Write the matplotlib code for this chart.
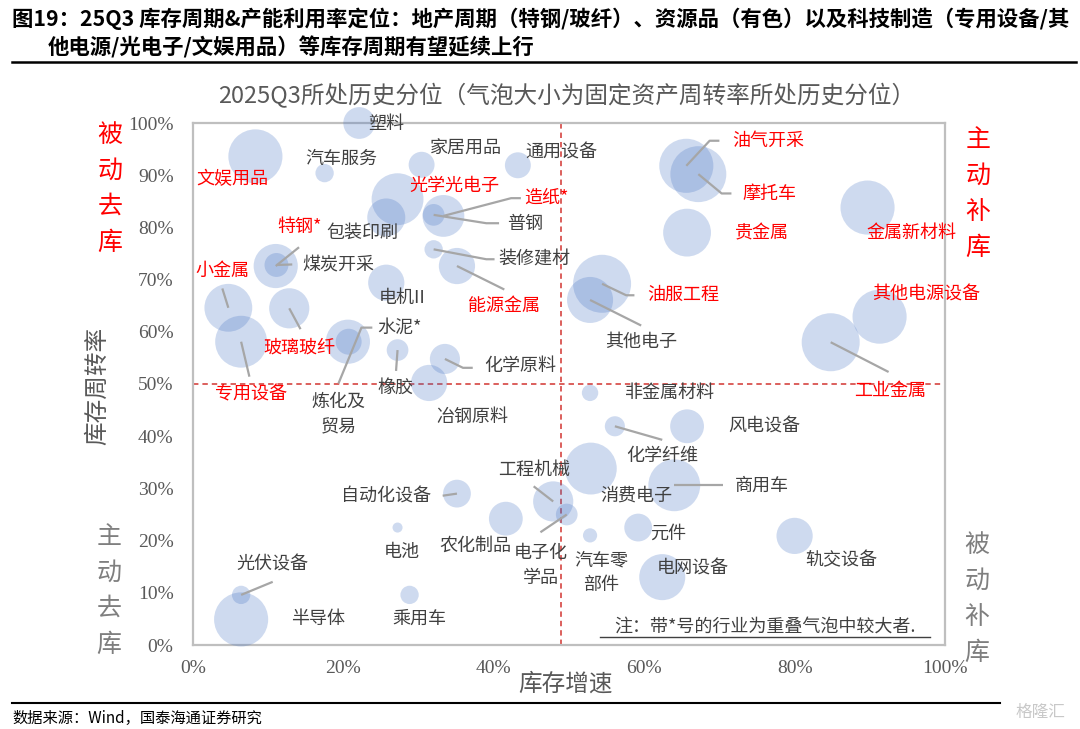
import matplotlib
matplotlib.use('Agg')
import matplotlib.pyplot as plt
from matplotlib.ticker import PercentFormatter
import numpy as np

plt.rcParams['font.family'] = ['Noto Sans CJK SC', 'DejaVu Sans']

# ---------------- data ----------------
industries = ['文娱用品', '塑料', '汽车服务', '家居用品', '通用设备', '光学光电子', '包装印刷',
              '造纸*', '普钢', '特钢*', '煤炭开采', '装修建材', '能源金属', '电机II', '小金属',
              '专用设备', '玻璃玻纤', '水泥*', '炼化及贸易', '橡胶', '化学原料', '冶钢原料',
              '油气开采', '摩托车', '贵金属', '金属新材料', '油服工程', '其他电子', '其他电源设备',
              '工业金属', '非金属材料', '化学纤维', '风电设备', '消费电子', '商用车', '元件',
              '汽车零部件', '电网设备', '轨交设备', '工程机械', '电子化学品', '自动化设备',
              '农化制品', '电池', '光伏设备', '半导体', '乘用车']
# inventory growth historical percentile (%)
inv_growth = [8.3, 22.1, 17.5, 30.4, 43.2, 27.2, 25.7,
              33.3, 32.0, 11.0, 11.1, 32.0, 35.1, 25.7, 4.7,
              6.4, 12.8, 20.6, 20.7, 27.2, 33.5, 31.4,
              65.6, 67.2, 65.7, 89.7, 54.4, 52.8, 91.3,
              84.8, 52.8, 56.1, 65.7, 52.9, 64.0, 59.2,
              52.8, 62.4, 80.0, 47.9, 49.7, 35.1,
              41.6, 27.2, 6.4, 6.4, 28.8]
# inventory turnover historical percentile (%)
inv_turnover = [93.6, 100.0, 90.4, 92.0, 91.9, 85.4, 81.9,
                82.2, 82.4, 72.6, 72.8, 75.8, 72.6, 69.4, 64.6,
                58.1, 64.5, 58.1, 58.1, 56.5, 54.8, 50.2,
                91.8, 90.2, 79.0, 83.8, 69.2, 66.1, 62.9,
                58.0, 48.3, 41.9, 41.9, 33.8, 30.6, 22.5,
                21.0, 13.0, 20.9, 27.5, 25.0, 29.0,
                24.2, 22.5, 9.6, 4.9, 9.6]
# fixed-asset turnover historical percentile (%) -> bubble size
fa_turnover = [87, 30, 10, 20, 20, 80, 43,
               52, 14, 58, 17, 10, 39, 39, 68,
               80, 48, 58, 20, 14, 27, 39,
               87, 93, 68, 87, 100, 63, 87,
               100, 8, 12, 34, 80, 80, 23,
               6, 63, 39, 48, 14, 23,
               34, 3, 10, 87, 10]
red_labels = {'文娱用品', '光学光电子', '造纸*', '特钢*', '小金属', '玻璃玻纤', '能源金属',
              '专用设备', '油气开采', '摩托车', '贵金属', '金属新材料', '油服工程',
              '其他电源设备', '工业金属'}
x_ticks = [0, 20, 40, 60, 80, 100]
y_ticks = [0, 10, 20, 30, 40, 50, 60, 70, 80, 90, 100]
x_split = 49
y_split = 50

# ---------------- layout (label positions in %) ----------------
label_text = {'炼化及贸易': '炼化及\n贸易', '电子化学品': '电子化\n学品', '汽车零部件': '汽车零\n部件'}
label_pos = {
    '塑料': (25.7, 99.8), '汽车服务': (19.7, 93.2), '家居用品': (36.3, 95.0), '通用设备': (49.0, 94.4),
    '文娱用品': (5.2, 89.3), '光学光电子': (34.8, 87.9), '造纸*': (47.0, 85.6), '普钢': (44.2, 80.6),
    '特钢*': (14.1, 80.0), '包装印刷': (22.5, 79.0), '煤炭开采': (19.3, 72.9), '装修建材': (45.4, 73.8),
    '小金属': (3.9, 71.7), '电机II': (27.8, 66.4), '能源金属': (41.4, 64.9), '水泥*': (27.4, 60.8),
    '玻璃玻纤': (14.2, 56.9), '化学原料': (43.5, 53.4), '橡胶': (26.9, 49.3), '专用设备': (7.7, 48.0),
    '炼化及贸易': (19.4, 44.1), '冶钢原料': (37.1, 43.7), '工程机械': (45.3, 33.6),
    '自动化设备': (25.7, 28.5), '电池': (27.8, 17.9), '农化制品': (37.6, 19.0),
    '电子化学品': (46.3, 15.2), '光伏设备': (10.6, 15.4), '半导体': (16.6, 4.9), '乘用车': (30.1, 5.1),
    '油气开采': (76.5, 96.5), '摩托车': (76.6, 86.5), '贵金属': (75.7, 78.9), '金属新材料': (95.5, 78.9),
    '油服工程': (65.2, 67.0), '其他电源设备': (97.5, 67.2), '其他电子': (59.6, 58.0),
    '工业金属': (92.7, 48.6), '非金属材料': (63.4, 48.2), '风电设备': (76.0, 41.9),
    '化学纤维': (62.4, 36.3), '商用车': (75.6, 30.6), '消费电子': (59.0, 28.6), '元件': (63.2, 21.4),
    '汽车零部件': (54.3, 13.8), '电网设备': (66.5, 14.7), '轨交设备': (86.2, 16.2),
}
leaders = {
    '普钢': [(39.0, 80.8), (40.7, 80.8)],
    '造纸*': [(42.3, 85.6), (43.6, 85.6)],
    '特钢*': [(14.1, 76.2)],
    '煤炭开采': [(13.2, 72.9)],
    '装修建材': [(39.0, 73.9), (40.1, 73.9)],
    '能源金属': [(41.4, 68.1)],
    '小金属': [(3.9, 68.3)],
    '玻璃玻纤': [(14.3, 60.5)],
    '专用设备': [(7.5, 51.4)],
    '橡胶': [(27.0, 52.5)],
    '化学原料': [(35.9, 53.1), (37.2, 53.1)],
    '自动化设备': [(33.2, 28.6)],
    '工程机械': [(45.3, 30.4)],
    '电子化学品': [(46.2, 21.6)],
    '光伏设备': [(10.6, 12.1)],
    '油气开采': [(68.7, 96.6), (70.0, 96.6)],
    '摩托车': [(70.3, 86.5), (71.6, 86.5)],
    '油服工程': [(57.6, 67.0), (58.7, 67.0)],
    '其他电子': [(59.6, 61.2)],
    '工业金属': [(92.5, 52.3)],
    '化学纤维': [(62.4, 39.3)],
    '商用车': [(70.5, 30.6)],
}
cement_leader = [(23.7, 60.8), (22.4, 60.8), (19.4, 50.3)]

W, H = 1080, 729
fig = plt.figure(figsize=(W / 100, H / 100), dpi=100)
fig.patch.set_facecolor('white')

def fx(px):
    return px / W

def fy(py):
    return 1 - py / H

ax = fig.add_axes([fx(193), fy(645), (945 - 193) / W, (645 - 123) / H])
ax.set_xlim(0, 100)
ax.set_ylim(0, 100)

sizes = [1744 * v / 100 for v in fa_turnover]
ax.scatter(inv_growth, inv_turnover, s=sizes, color='#4472C4', alpha=0.26,
           edgecolors='none', zorder=3, clip_on=False)

dash_col = '#d9534f'
ax.axvline(x_split, color=dash_col, ls=(0, (3, 2.2)), lw=1.3, zorder=2)
ax.axhline(y_split, color=dash_col, ls=(0, (3, 2.2)), lw=1.3, zorder=2)

lead_col = '#a6a6a6'
for name, pts in leaders.items():
    i = industries.index(name)
    xs = [inv_growth[i]] + [p[0] for p in pts]
    ys = [inv_turnover[i]] + [p[1] for p in pts]
    ax.plot(xs, ys, color=lead_col, lw=1.6, zorder=4, solid_capstyle='butt')
ax.plot([p[0] for p in cement_leader], [p[1] for p in cement_leader], color=lead_col, lw=1.6, zorder=4)

for name in industries:
    x, y = label_pos[name]
    col = '#ff0000' if name in red_labels else '#404040'
    ax.text(x, y, label_text.get(name, name), ha='center', va='center', fontsize=13,
            color=col, zorder=5, linespacing=1.5, clip_on=False)

ax.text(76.0, 3.6, '注：带*号的行业为重叠气泡中较大者.', ha='center', va='center',
        fontsize=13, color='#404040', zorder=5)
ax.plot([54.1, 98.0], [1.5, 1.5], color='#404040', lw=1.0, zorder=5)

for sp in ax.spines.values():
    sp.set_color('#bfbfbf')
    sp.set_linewidth(1.6)

ax.set_xticks(x_ticks)
ax.set_yticks(y_ticks)
ax.xaxis.set_major_formatter(PercentFormatter(decimals=0))
ax.yaxis.set_major_formatter(PercentFormatter(decimals=0))
ax.tick_params(length=0, labelsize=14, colors='#595959')
ax.tick_params(axis='y', pad=14)
ax.tick_params(axis='x', pad=11)
for lab in ax.get_xticklabels() + ax.get_yticklabels():
    lab.set_fontfamily(['Liberation Serif', 'DejaVu Serif'])

# axis labels
fig.text(fx(98), fy(386), '库存周转率', rotation=90, ha='center', va='center',
         fontsize=17, color='#595959')
fig.text(fx(566), fy(684), '库存增速', ha='center', va='center', fontsize=17, color='#595959')

# quadrant labels
def vertical(x, y0, chars, col):
    for k, ch in enumerate(chars):
        fig.text(fx(x), fy(y0 + 36 * k), ch, ha='center', va='center', fontsize=18,
                 color=col, fontweight='medium' if col == '#ff0000' else 'normal')

vertical(110, 135, '被动去库', '#ff0000')
vertical(978, 140, '主动补库', '#ff0000')
vertical(109, 537, '主动去库', '#7f7f7f')
vertical(977, 545, '被动补库', '#7f7f7f')

# titles
fig.text(fx(12), fy(19), '图19：25Q3 库存周期&产能利用率定位：地产周期（特钢/玻纤）、资源品（有色）以及科技制造（专用设备/其',
         ha='left', va='center', fontsize=15.4, fontweight='bold', color='#000000')
fig.text(fx(48), fy(47), '他电源/光电子/文娱用品）等库存周期有望延续上行',
         ha='left', va='center', fontsize=15.4, fontweight='bold', color='#000000')
fig.add_artist(plt.Line2D([fx(12), fx(1076)], [fy(62), fy(62)], color='black', lw=1.8))
fig.text(fx(567), fy(96), '2025Q3所处历史分位（气泡大小为固定资产周转率所处历史分位）',
         ha='center', va='center', fontsize=17, color='#595959')

fig.add_artist(plt.Line2D([fx(12), fx(1000)], [fy(703), fy(703)], color='black', lw=1.5))
fig.text(fx(12), fy(718), '数据来源：Wind，国泰海通证券研究', ha='left', va='center',
         fontsize=11, color='#000000')
fig.text(fx(1040), fy(712), '格隆汇', ha='center', va='center', fontsize=12, color='#c8c8c8')

fig.savefig('out.png', dpi=100, facecolor='white')
